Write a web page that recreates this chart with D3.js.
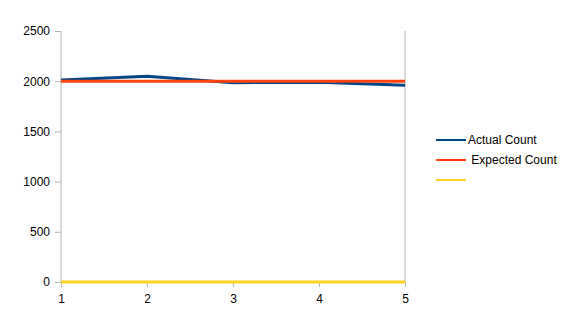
<!DOCTYPE html>
<html>
<head>
<meta charset="utf-8">
<script src="https://cdn.jsdelivr.net/npm/d3@7"></script>
<style>
  body { margin: 0; background: #fff; }
  text { font-family: "Liberation Sans", Arial, sans-serif; font-size: 12px; fill: #000; }
</style>
</head>
<body>
<svg width="563" height="319"></svg>
<script>
var pic = d3.select("svg");

// chart data
var categories = [1, 2, 3, 4, 5];
var actualCount = [2012, 2050, 1985, 1990, 1960];
var expectedCount = [2000, 2000, 2000, 2000, 2000];
var thirdSeries = [0, 0, 0, 0, 0];
var yTicks = [0, 500, 1000, 1500, 2000, 2500];
var seriesNames = ["Actual Count", " Expected Count", ""];
var seriesColors = ["#004586", "#ff420e", "#ffd320"];

// plot box (named so they don't clash with window.top)
var plotLeft = 61, plotRight = 405, plotTop = 31, plotBottom = 282;

var x = d3.scaleLinear().domain([1, 5]).range([plotLeft, plotRight]);
var y = d3.scaleLinear().domain([0, 2500]).range([plotBottom, plotTop]);

// y axis
var yAxis = pic.append("g").attr("transform", "translate(" + plotLeft + ",0)")
  .call(d3.axisLeft(y).tickValues(yTicks).tickFormat(d3.format("d")).tickSize(6).tickPadding(5));
yAxis.select(".domain").attr("stroke", "#b3b3b3").attr("d", "M0," + plotTop + "V" + plotBottom);
yAxis.selectAll(".tick line").attr("stroke", "#b3b3b3");

// x axis
var xAxis = pic.append("g").attr("transform", "translate(0," + plotBottom + ")")
  .call(d3.axisBottom(x).tickValues(categories).tickFormat(d3.format("d")).tickSize(5).tickPadding(7));
xAxis.select(".domain").attr("stroke", "#b3b3b3").attr("d", "M" + plotLeft + ",0H" + plotRight);
xAxis.selectAll(".tick line").attr("stroke", "#b3b3b3");

// right border
pic.append("line").attr("x1", plotRight).attr("x2", plotRight).attr("y1", plotTop).attr("y2", plotBottom)
  .attr("stroke", "#b3b3b3");

var line = d3.line().x(function(d, i) { return x(categories[i]); }).y(function(d) { return y(d); });

var allSeries = [actualCount, expectedCount, thirdSeries];
allSeries.forEach(function(s, i) {
  pic.append("path").datum(s).attr("d", line).attr("fill", "none")
    .attr("stroke", seriesColors[i]).attr("stroke-width", 3);
});

// legend
var legend = pic.append("g");
seriesNames.forEach(function(name, i) {
  var ly = 140 + i * 20;
  legend.append("line").attr("x1", 436).attr("x2", 466).attr("y1", ly).attr("y2", ly)
    .attr("stroke", seriesColors[i]).attr("stroke-width", 2);
  legend.append("text").attr("x", 468).attr("y", ly + 4)
    .style("white-space", "pre").text(name);
});
</script>
</body>
</html>
